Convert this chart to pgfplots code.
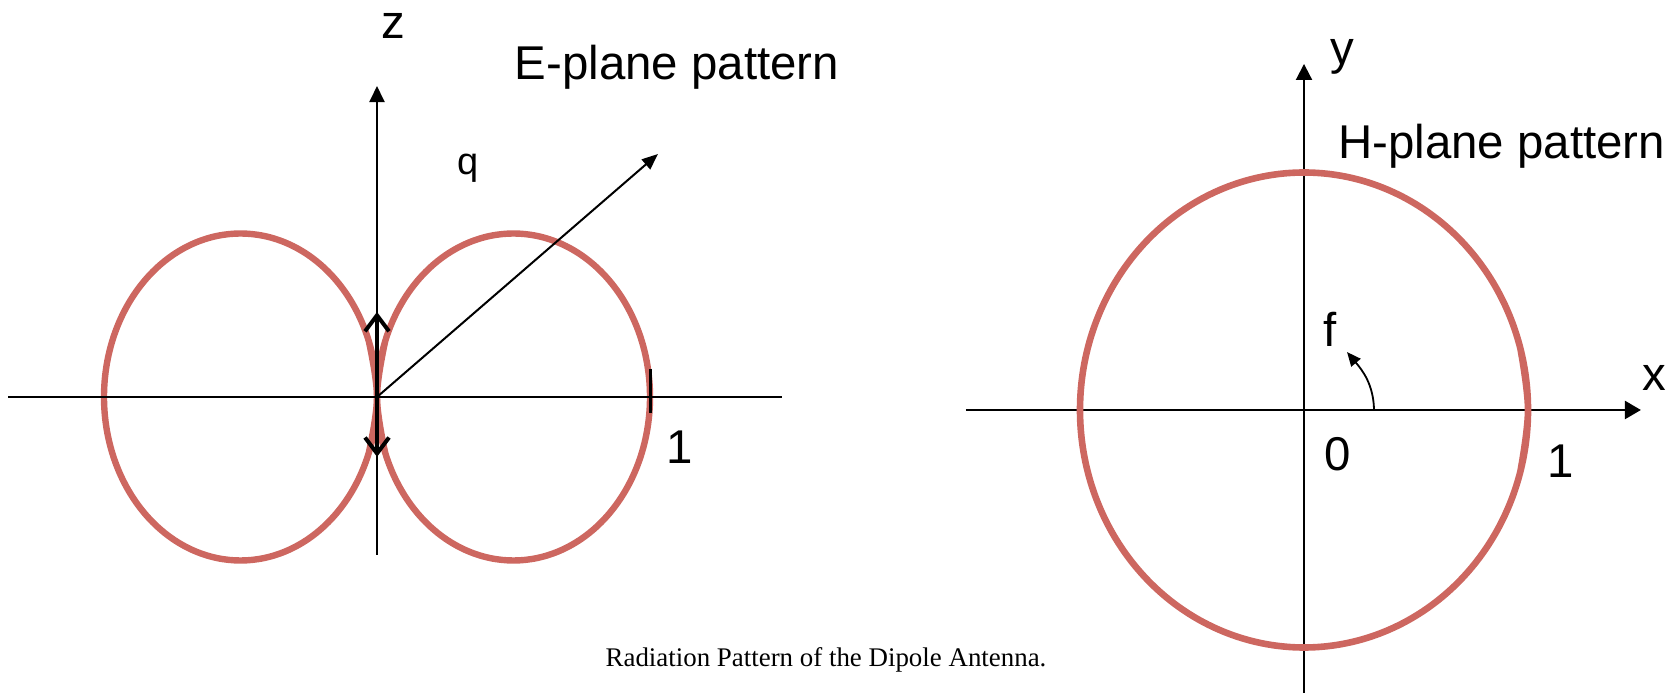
\documentclass[border=0pt]{standalone}
\usepackage{pgfplots}
\pgfplotsset{compat=1.18}
\usepackage{fontspec}
\setmainfont{Liberation Sans}
\newfontfamily\capfont{Liberation Serif}
\usetikzlibrary{arrows.meta}
\definecolor{pat}{RGB}{205,103,96}
\newcommand{\lbl}{\fontsize{23.7bp}{28bp}\selectfont}
\begin{document}
\begin{tikzpicture}
\path (0,0) rectangle (836.5bp,347bp);
% ---------------- E-plane ----------------
\begin{axis}[at={(4.225bp,1.35bp)},anchor=south west,
  scale only axis,width=389.025bp,height=343.35bp,
  xmin=-1.35,xmax=1.5,ymin=-0.9,ymax=1.2,hide axis,clip=false]
\addplot[pat,line width=3.2bp,smooth,tension=0.614,line cap=round] coordinates {
(0.03015,-0.17101) (0,0) (0.03015,0.17101) (0.11698,0.32139) (0.25,0.43301)
(0.41318,0.49240) (0.58682,0.49240) (0.75,0.43301) (0.88302,0.32139)
(0.96985,0.17101) (1,0) (0.96985,-0.17101) (0.88302,-0.32139) (0.75,-0.43301)
(0.58682,-0.49240) (0.41318,-0.49240) (0.25,-0.43301) (0.11698,-0.32139)
(0.03015,-0.17101) (0,0) (0.03015,0.17101)};
\addplot[pat,line width=3.2bp,smooth,tension=0.614,line cap=round] coordinates {
(-0.03015,-0.17101) (0,0) (-0.03015,0.17101) (-0.11698,0.32139) (-0.25,0.43301)
(-0.41318,0.49240) (-0.58682,0.49240) (-0.75,0.43301) (-0.88302,0.32139)
(-0.96985,0.17101) (-1,0) (-0.96985,-0.17101) (-0.88302,-0.32139) (-0.75,-0.43301)
(-0.58682,-0.49240) (-0.41318,-0.49240) (-0.25,-0.43301) (-0.11698,-0.32139)
(-0.03015,-0.17101) (0,0) (-0.03015,0.17101)};
\draw[line width=1bp] (axis cs:-1.35,0) -- (axis cs:1.4835,0);
\draw[line width=1bp,-{Triangle[length=8bp,width=7.5bp]}] (axis cs:0,-0.483) -- (axis cs:0,0.951);
\draw[line width=1bp,-{Triangle[length=8bp,width=6.5bp]}] (axis cs:0,0) -- (axis cs:1.029,0.743);
\draw[line width=1.5bp] (axis cs:1,0.086) -- (axis cs:1,-0.049);
\draw[line width=2bp,{Straight Barb[length=8bp,width=12bp]}-{Straight Barb[length=8bp,width=12bp]}] (axis cs:0,-0.183) -- (axis cs:0,0.26);
\node[anchor=base,font=\lbl] at (axis cs:0.06,1.095) {z};
\node[anchor=base,font=\lbl] at (axis cs:1.099,0.972) {E-plane pattern};
\node[anchor=base,font=\fontsize{19bp}{22bp}\selectfont] at (axis cs:0.333,0.679) {q};
\node[anchor=base,font=\lbl] at (axis cs:1.11,-0.202) {1};
\end{axis}
% ---------------- H-plane ----------------
\begin{axis}[at={(478.4bp,0.6875bp)},anchor=south west,
  scale only axis,width=357.84bp,height=319.4375bp,
  xmin=-1.55,xmax=1.645,ymin=-1.19,ymax=1.5,hide axis,clip=false]
\draw[line width=1.2bp,-{Triangle[length=8bp,width=9bp]}] (axis cs:-1.509,0) -- (axis cs:1.504,0);
\draw[line width=1bp,-{Triangle[length=8bp,width=8bp]}] (axis cs:0,-1.19) -- (axis cs:0,1.457);
\addplot[pat,line width=3.3bp,smooth,tension=0.608,line cap=round] coordinates {
(0.96593,-0.25882) (1,0) (0.96593,0.25882) (0.86603,0.5) (0.70711,0.70711)
(0.5,0.86603) (0.25882,0.96593) (0,1) (-0.25882,0.96593) (-0.5,0.86603)
(-0.70711,0.70711) (-0.86603,0.5) (-0.96593,0.25882) (-1,0) (-0.96593,-0.25882)
(-0.86603,-0.5) (-0.70711,-0.70711) (-0.5,-0.86603) (-0.25882,-0.96593) (0,-1)
(0.25882,-0.96593) (0.5,-0.86603) (0.70711,-0.70711) (0.86603,-0.5)
(0.96593,-0.25882) (1,0) (0.96593,0.25882)};
\draw[line width=0.9bp,-{Triangle[length=7bp,width=6bp]}] (axis cs:0.3125,0.005) to[out=92,in=-50] (axis cs:0.192,0.244);
\node[anchor=base,font=\lbl] at (axis cs:0.17,1.453) {y};
\node[anchor=base,font=\lbl] at (axis cs:0.882,1.057) {H-plane pattern};
\node[anchor=base,font=\lbl] at (axis cs:1.5625,0.08) {x};
\node[anchor=base,font=\lbl] at (axis cs:0.116,0.269) {f};
\node[anchor=base,font=\lbl] at (axis cs:0.152,-0.253) {0};
\node[anchor=base,font=\lbl] at (axis cs:1.147,-0.286) {1};
\end{axis}
\node[anchor=base,font=\capfont\fontsize{13.45bp}{16bp}\selectfont] at (413bp,14bp) {Radiation Pattern of the Dipole Antenna.};
\end{tikzpicture}
\end{document}
